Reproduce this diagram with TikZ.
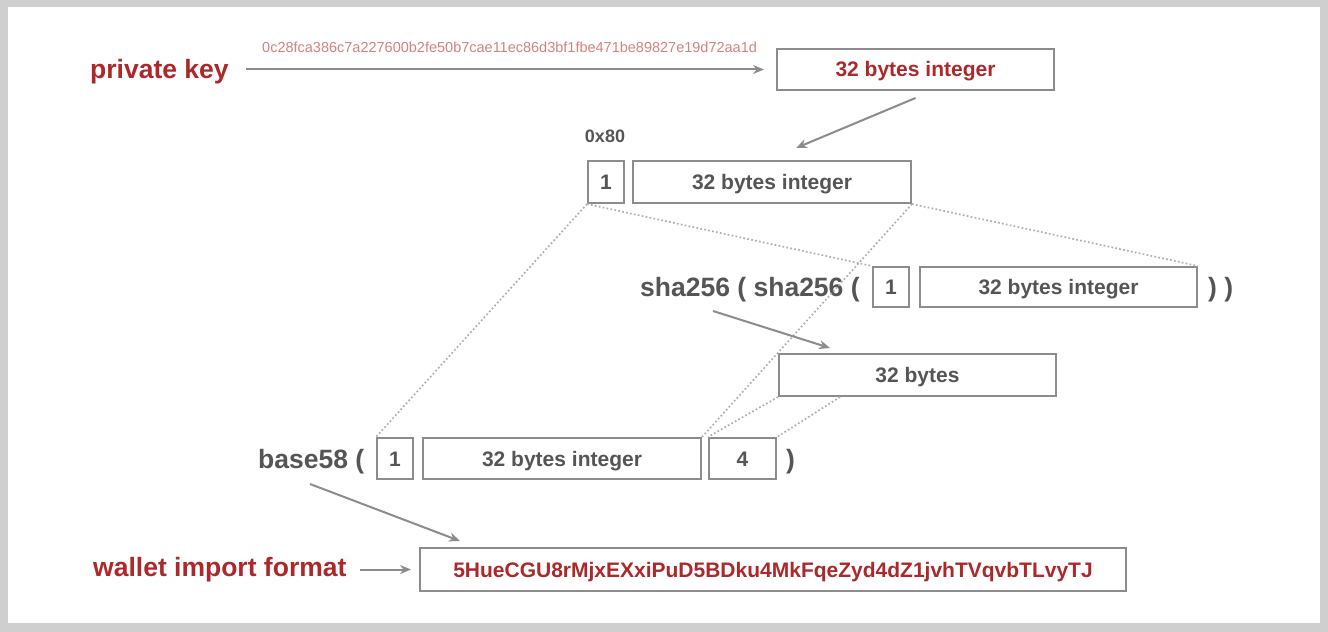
\documentclass[tikz,border=0pt]{standalone}
\usepackage{fontspec}
\setmainfont{Liberation Sans}
\usetikzlibrary{arrows.meta}
\definecolor{frame}{RGB}{207,207,207}
\definecolor{boxline}{RGB}{140,140,140}
\definecolor{boxtext}{RGB}{85,85,85}
\definecolor{darkred}{RGB}{172,40,42}
\definecolor{pinkred}{RGB}{214,130,125}
\definecolor{arrgray}{RGB}{140,140,140}
\definecolor{dotgray}{RGB}{175,175,175}
\tikzset{
  cell/.style={draw=boxline, line width=2bp, inner sep=0pt, anchor=north west,
    text=boxtext, text height=15bp, text depth=0pt,
    font=\fontsize{21bp}{25bp}\selectfont\bfseries},
  redcell/.style={cell, text=darkred},
  redlabel/.style={inner sep=0pt, anchor=west, text=darkred,
    text height=19bp, text depth=0pt,
    font=\fontsize{26.5bp}{30bp}\selectfont\bfseries},
  graylabel/.style={redlabel, text=boxtext},
  arr/.style={draw=arrgray, line width=2bp, -{Stealth[length=11bp,width=9bp]}},
  dotline/.style={draw=dotgray, line width=1.7bp, dash pattern=on 1.7bp off 2.3bp},
}
\begin{document}
\begin{tikzpicture}[x=1bp,y=-1bp]
\useasboundingbox (0,0) rectangle (1328,632);
\fill[frame] (0,0) rectangle (1328,632);
\fill[white] (8,7) rectangle (1320,623);

% top row
\node[redlabel] (pk) at (90,69) {private key};
\node[inner sep=0pt, anchor=west, text=pinkred, font=\fontsize{14.5bp}{17bp}\selectfont] (hex) at (262,47)
  {0c28fca386c7a227600b2fe50b7cae11ec86d3bf1fbe471be89827e19d72aa1d};
\node[redcell, minimum width=277bp, minimum height=41bp] (topbox) at (776,48) {32 bytes integer};

% 0x80 row
\node[inner sep=0pt, text=boxtext, font=\fontsize{18bp}{21bp}\selectfont\bfseries] (pre) at (605,136) {0x80};
\node[cell, minimum width=36bp, minimum height=42bp] (m1) at (587,160) {1};
\node[cell, minimum width=278bp, minimum height=42bp] (m32) at (632,160) {32 bytes integer};

% sha256 row
\node[graylabel] (sha) at (640,286.5) {sha256 ( sha256 (};
\node[cell, minimum width=36bp, minimum height=40bp] (s1) at (872,266) {1};
\node[cell, minimum width=277bp, minimum height=40bp] (s32) at (919,266) {32 bytes integer};
\node[graylabel] (sclose) at (1208,286.5) {) )};

% hash
\node[cell, minimum width=277bp, minimum height=42bp] (h32) at (778,353) {32 bytes};

% base58 row
\node[graylabel] (b58) at (258,458.5) {base58 (};
\node[cell, minimum width=36bp, minimum height=41bp] (b1) at (376,437) {1};
\node[cell, minimum width=278bp, minimum height=41bp] (b32) at (422,437) {32 bytes integer};
\node[cell, minimum width=67bp, minimum height=41bp] (b4) at (708,437) {4};
\node[graylabel] (bclose) at (786,458.5) {)};

% wif row
\node[redlabel] (wal) at (93,567) {wallet import format};
\node[redcell, minimum width=706bp, minimum height=43bp] (wif) at (419,547)
  {5HueCGU8rMjxEXxiPuD5BDku4MkFqeZyd4dZ1jvhTVqvbTLvyTJ};

% dotted projections
\draw[dotline] (m1.south west) -- (b1.north west);
\draw[dotline] (m32.south east) -- (b32.north east);
\draw[dotline] (m1.south west) -- (s1.north west);
\draw[dotline] (m32.south east) -- (s32.north east);
\draw[dotline] (h32.south west) -- (b4.north west);
\draw[dotline] ([xshift=62bp]h32.south west) -- (b4.north east);

% arrows
\draw[arr, shorten <=17bp, shorten >=12bp] (pk.east |- topbox.west) -- (topbox.west);
\draw[arr] ([yshift=-7bp]topbox.south) -- ([xshift=24bp,yshift=12bp]m32.north);
\draw[arr] ([xshift=73bp,yshift=-24.5bp]sha.west) -- ([xshift=52bp,yshift=5bp]h32.north west);
\draw[arr] ([xshift=52bp,yshift=-25.5bp]b58.west) -- ([xshift=41bp,yshift=6bp]wif.north west);
\draw[arr, shorten <=13bp, shorten >=8bp] (wal.east |- wif.west) -- (wif.west);
\end{tikzpicture}
\end{document}
